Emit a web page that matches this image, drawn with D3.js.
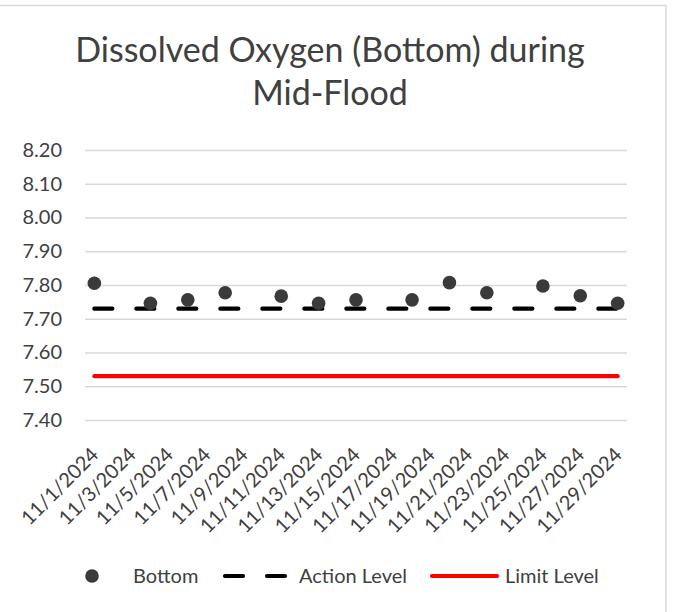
<!DOCTYPE html>
<html>
<head>
<meta charset="utf-8">
<script src="https://cdn.jsdelivr.net/npm/d3@7"></script>
<style>
  html, body { margin: 0; padding: 0; background: #fff; }
  svg { display: block; }
</style>
</head>
<body>
<svg id="chart" width="677" height="612"></svg>
<script>
// ---- data ----
const sampleDates = ["2024-11-01","2024-11-04","2024-11-06","2024-11-08","2024-11-11","2024-11-13","2024-11-15",
                     "2024-11-18","2024-11-20","2024-11-22","2024-11-25","2024-11-27","2024-11-29"];
const bottomValues = [7.805, 7.746, 7.756, 7.777, 7.767, 7.746, 7.756, 7.756, 7.807, 7.777, 7.797, 7.768, 7.746];
const actionLevel = 7.73;
const limitLevel = 7.53;
const tickDates = ["2024-11-01","2024-11-03","2024-11-05","2024-11-07","2024-11-09","2024-11-11","2024-11-13","2024-11-15",
                   "2024-11-17","2024-11-19","2024-11-21","2024-11-23","2024-11-25","2024-11-27","2024-11-29"];
const yTicks = [7.40, 7.50, 7.60, 7.70, 7.80, 7.90, 8.00, 8.10, 8.20];
const titleLines = ["Dissolved Oxygen (Bottom) during", "Mid-Flood"];
const legendLabels = ["Bottom", "Action Level", "Limit Level"];

// ---- setup ----
const parse = d3.utcParse("%Y-%m-%d");
const fmtTick = d => (d.getUTCMonth() + 1) + "/" + d.getUTCDate() + "/" + d.getUTCFullYear();
const FONT = "Lato, 'Noto Sans', sans-serif";
const TXT = "#404040";

const svg = d3.select("#chart");
const plot = { left: 85, right: 627, top: 150, bottom: 420 };

const firstDay = parse(sampleDates[0]);
const lastDay = parse(sampleDates[sampleDates.length - 1]);
const x = d3.scaleUtc()
  .domain([d3.utcHour.offset(firstDay, -12), d3.utcHour.offset(lastDay, 12)])
  .range([plot.left, plot.right]);
const y = d3.scaleLinear().domain([7.40, 8.20]).range([plot.bottom, plot.top]);

// chart border
svg.append("rect")
  .attr("x", -2).attr("y", 5.5).attr("width", 668).attr("height", 620)
  .attr("fill", "#fff").attr("stroke", "#d9d9d9").attr("stroke-width", 1.5);

// title
svg.append("g").selectAll("text").data(titleLines).join("text")
  .attr("x", 330).attr("y", (d, i) => 62 + i * 43)
  .attr("text-anchor", "middle")
  .attr("font-family", FONT).attr("font-size", 34).attr("fill", TXT)
  .text(d => d);

// y axis with gridlines
const yAxis = d3.axisLeft(y).tickValues(yTicks).tickFormat(d3.format(".2f"))
  .tickSize(-(plot.right - plot.left)).tickPadding(23);
const gy = svg.append("g").attr("transform", `translate(${plot.left},0)`).call(yAxis);
gy.select(".domain").remove();
gy.selectAll(".tick line").attr("stroke", "#d9d9d9").attr("stroke-width", 1.5);
gy.selectAll(".tick text").attr("font-family", FONT).attr("font-size", 20).attr("fill", TXT);

// x axis labels
const xAxis = d3.axisBottom(x).tickValues(tickDates.map(parse)).tickFormat(fmtTick).tickSize(0);
const gx = svg.append("g").attr("transform", `translate(0,${plot.bottom})`).call(xAxis);
gx.select(".domain").remove();
gx.selectAll(".tick text")
  .attr("font-family", FONT).attr("font-size", 20).attr("fill", TXT)
  .attr("text-anchor", "end")
  .attr("dy", "0.35em").attr("y", 0)
  .attr("transform", "translate(0,31) rotate(-45)");

// limit line
const xs = sampleDates.map(parse);
svg.append("line")
  .attr("x1", x(xs[0])).attr("x2", x(xs[xs.length - 1]))
  .attr("y1", y(limitLevel)).attr("y2", y(limitLevel))
  .attr("stroke", "#ff0000").attr("stroke-width", 4.2).attr("stroke-linecap", "round");

// action line
svg.append("line")
  .attr("x1", x(xs[0])).attr("x2", x(xs[xs.length - 1]))
  .attr("y1", y(actionLevel)).attr("y2", y(actionLevel))
  .attr("stroke", "#000").attr("stroke-width", 4.2).attr("stroke-linecap", "round")
  .attr("stroke-dasharray", "18,24");

// points
svg.append("g").selectAll("circle").data(bottomValues).join("circle")
  .attr("cx", (d, i) => x(xs[i])).attr("cy", d => y(d)).attr("r", 6.8)
  .attr("fill", "#3a3a3a");

// legend
const lg = svg.append("g");
const ly = 576;
lg.append("circle").attr("cx", 92).attr("cy", ly).attr("r", 6.8).attr("fill", "#3a3a3a");
lg.append("line").attr("x1", 225).attr("x2", 286).attr("y1", ly).attr("y2", ly)
  .attr("stroke", "#000").attr("stroke-width", 4.2).attr("stroke-linecap", "round")
  .attr("stroke-dasharray", "18,24");
lg.append("line").attr("x1", 432).attr("x2", 497).attr("y1", ly).attr("y2", ly)
  .attr("stroke", "#ff0000").attr("stroke-width", 4.2).attr("stroke-linecap", "round");
const lx = [133, 299, 505];
lg.selectAll("text").data(legendLabels).join("text")
  .attr("x", (d, i) => lx[i]).attr("y", ly + 7)
  .attr("font-family", FONT).attr("font-size", 20).attr("fill", TXT)
  .text(d => d);
</script>
</body>
</html>
